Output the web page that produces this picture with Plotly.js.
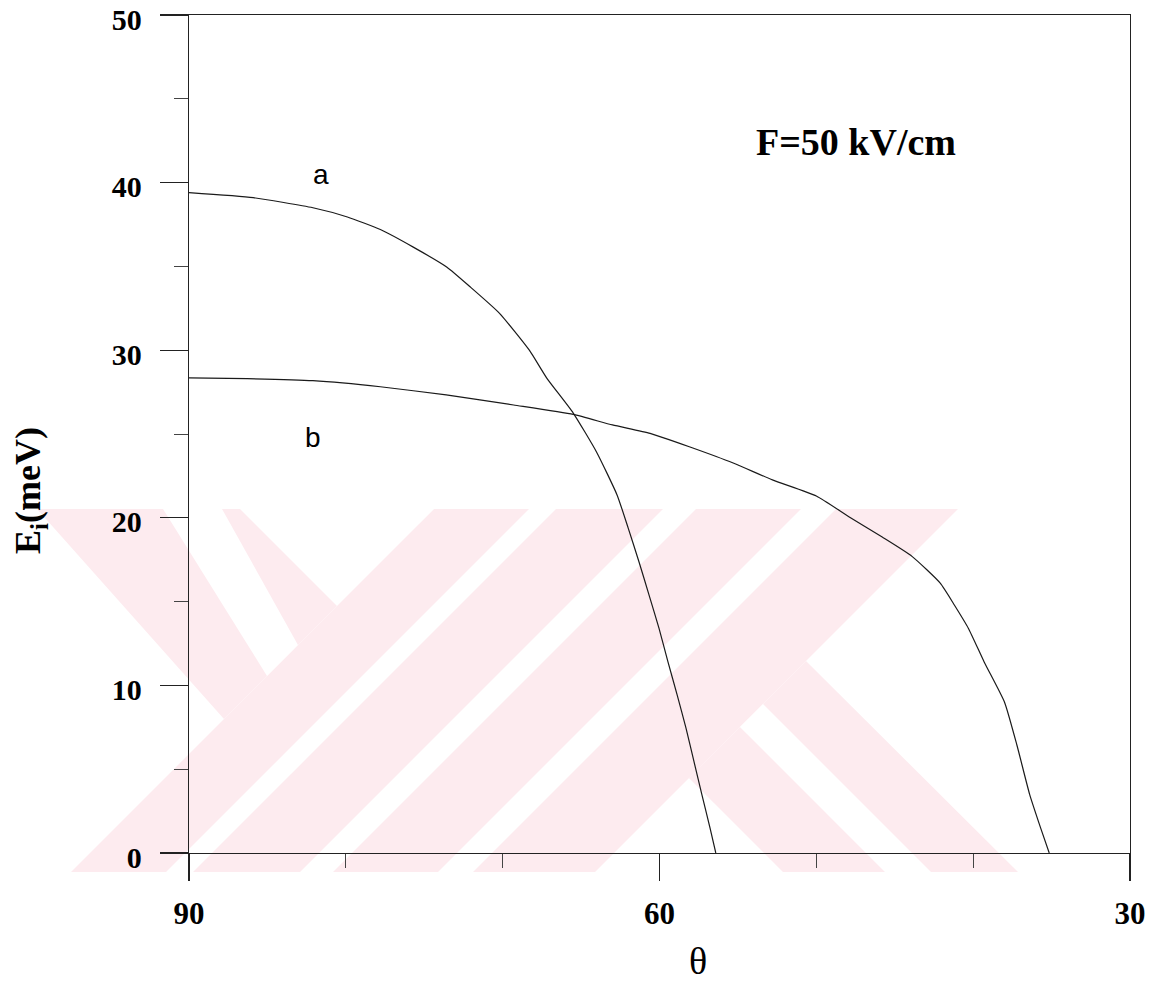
<!DOCTYPE html>
<html>
<head>
<meta charset="utf-8">
<script src="https://cdn.plot.ly/plotly-3.0.1.min.js"></script>
<style>
  html, body { margin: 0; padding: 0; background: #ffffff; }
  #chart { width: 1167px; height: 983px; }
</style>
</head>
<body>
<div id="chart"></div>
<script>
// ---- data ----
const thetaA = [90, 85.9, 82.1, 79.9, 77.8, 75.7, 73.55, 72.1, 70.2, 68.3, 67.2, 65.5, 64.0, 62.7, 62.0, 61.3, 60.67, 60.03, 59.46, 58.88, 58.31, 57.8, 57.29, 56.78, 56.41];
const energyA = [39.4, 39.1, 38.5, 37.95, 37.2, 36.15, 34.95, 33.8, 32.2, 30.0, 28.35, 26.25, 23.9, 21.35, 19.4, 17.35, 15.4, 13.4, 11.4, 9.45, 7.45, 5.45, 3.45, 1.5, 0];

const thetaB = [90, 86.3, 82.1, 77.8, 73.6, 69.3, 65.5, 63.0, 60.6, 58.1, 55.3, 52.8, 50.0, 47.9, 45.8, 43.9, 42.1, 41.2, 40.3, 39.3, 38.0, 37.2, 36.4, 35.7, 35.15];
const energyB = [28.35, 28.3, 28.18, 27.82, 27.33, 26.73, 26.17, 25.54, 25.04, 24.24, 23.27, 22.26, 21.3, 20.05, 18.85, 17.7, 16.1, 14.8, 13.4, 11.4, 9.0, 6.4, 3.5, 1.5, 0];

const curveLabels = ["a", "b"];
const labelTheta = [81.6, 82.1];
const labelEnergy = [40.5, 24.8];

const fieldLabel = "F=50 kV/cm";
const fieldTheta = 47.5;
const fieldEnergy = 42.4;

const xTickVals = [90, 60, 30];
const yTickVals = [0, 10, 20, 30, 40, 50];

// ---- layout geometry (pixels of the 1167x983 page) ----
const W = 1167, H = 983;
const M = { l: 189, r: 37, t: 15, b: 130 };
const PW = W - M.l - M.r, PH = H - M.t - M.b;
const px = (x) => (x - M.l) / PW;
const py = (y) => (H - M.b - y) / PH;
function poly(pts, color) {
  const d = pts.map((p, i) => (i ? 'L' : 'M') + px(p[0]).toFixed(4) + ',' + py(p[1]).toFixed(4)).join(' ') + ' Z';
  return { type: 'path', xref: 'paper', yref: 'paper', path: d, fillcolor: color, line: { width: 0 }, layer: 'below' };
}

// faint background watermark (decoration only)
const PINK = '#fdebef', WHITE = '#ffffff';
const shapes = [
  poly([[37, 509], [240, 509], [337, 606], [224, 719]], PINK),
  poly([[434, 509], [958, 509], [595, 872], [71, 872]], PINK),
  poly([[689, 778], [806, 661], [1018, 872], [783, 872]], PINK),
  poly([[163, 509], [222, 509], [298, 645], [267, 676]], WHITE),
  poly([[529, 509], [556, 509], [193, 872], [166, 872]], WHITE),
  poly([[663, 509], [696, 509], [333, 872], [300, 872]], WHITE),
  poly([[801, 509], [836, 509], [473, 872], [438, 872]], WHITE),
  poly([[740, 727], [763, 704], [931, 872], [885, 872]], WHITE)
];

const lineStyle = { color: '#1a1a1a', width: 1.2, shape: 'spline', smoothing: 0.5 };
const traces = [
  { x: thetaA, y: energyA, mode: 'lines', line: lineStyle, name: curveLabels[0] },
  { x: thetaB, y: energyB, mode: 'lines', line: lineStyle, name: curveLabels[1] }
];

const tickFontX = { family: 'Liberation Serif, Times New Roman, serif', size: 31, color: '#000', weight: 'bold' };
const tickFontY = { family: 'Liberation Serif, Times New Roman, serif', size: 30, color: '#000', weight: 'bold' };

const annotations = [
  { x: labelTheta[0], y: labelEnergy[0], text: curveLabels[0], showarrow: false, xanchor: 'center', yanchor: 'middle',
    font: { family: 'Liberation Sans, Arial, sans-serif', size: 28, color: '#000' } },
  { x: labelTheta[1], y: labelEnergy[1], text: curveLabels[1], showarrow: false, xanchor: 'center', yanchor: 'middle',
    font: { family: 'Liberation Sans, Arial, sans-serif', size: 28, color: '#000' } },
  { x: fieldTheta, y: fieldEnergy, text: fieldLabel, showarrow: false, xanchor: 'center', yanchor: 'middle',
    font: { family: 'Liberation Serif, Times New Roman, serif', size: 38, color: '#000', weight: 'bold' } },
  { xref: 'paper', yref: 'paper', x: px(698), y: py(961), text: 'θ', showarrow: false, xanchor: 'center', yanchor: 'middle',
    font: { family: 'Liberation Serif, Times New Roman, serif', size: 38, color: '#000' } },
  { xref: 'paper', yref: 'paper', x: px(30), y: py(491), text: 'E<sub>i</sub>(meV)', textangle: -90, showarrow: false,
    xanchor: 'center', yanchor: 'middle',
    font: { family: 'Liberation Serif, Times New Roman, serif', size: 36, color: '#000', weight: 'bold' } }
];

const layout = {
  width: W, height: H,
  margin: M,
  paper_bgcolor: '#ffffff',
  plot_bgcolor: 'rgba(0,0,0,0)',
  showlegend: false,
  shapes: shapes,
  annotations: annotations,
  xaxis: {
    range: [90, 30], autorange: false,
    tickmode: 'array', tickvals: xTickVals, ticktext: xTickVals.map(String),
    ticks: 'outside', ticklen: 27, tickwidth: 1.2, tickcolor: '#222',
    minor: { dtick: 10, tick0: 0, ticks: 'outside', ticklen: 14, tickwidth: 1, tickcolor: '#444', showgrid: false },
    showline: true, linecolor: '#222', linewidth: 1.3, mirror: true,
    showgrid: false, zeroline: false,
    tickfont: tickFontX, ticklabelstandoff: 5, ticklabeloverflow: 'allow'
  },
  yaxis: {
    range: [0, 50], autorange: false,
    tickmode: 'array', tickvals: yTickVals, ticktext: yTickVals.map(String),
    ticks: 'outside', ticklen: 28, tickwidth: 1.2, tickcolor: '#222',
    minor: { dtick: 5, tick0: 0, ticks: 'outside', ticklen: 14, tickwidth: 1, tickcolor: '#444', showgrid: false },
    showline: true, linecolor: '#222', linewidth: 1.3, mirror: true,
    showgrid: false, zeroline: false,
    tickfont: tickFontY, ticklabelstandoff: 12, ticklabelshift: 4, ticklabeloverflow: 'allow'
  }
};

Plotly.newPlot('chart', traces, layout, { displayModeBar: false, staticPlot: true });
</script>
</body>
</html>
